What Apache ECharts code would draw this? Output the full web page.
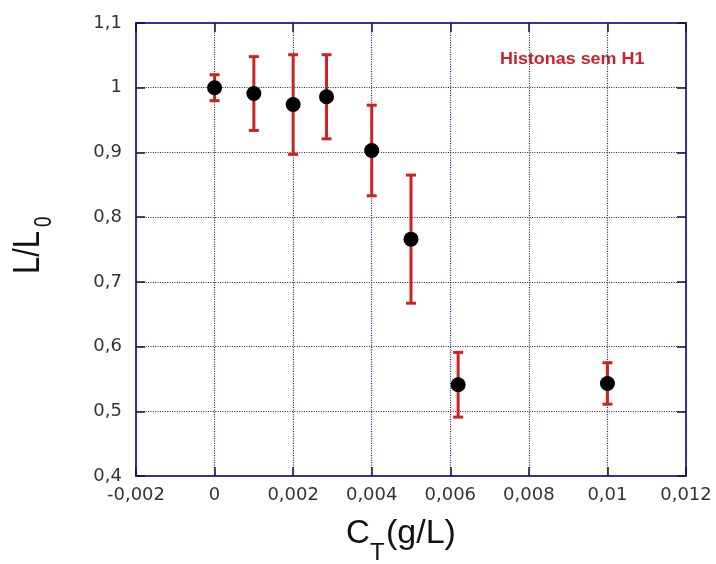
<!DOCTYPE html>
<html>
<head>
<meta charset="utf-8">
<script src="https://cdn.jsdelivr.net/npm/echarts@6/dist/echarts.min.js"></script>
<style>
  html, body { margin: 0; padding: 0; background: #fff; }
  #chart { width: 716px; height: 564px; }
</style>
</head>
<body>
<div id="chart"></div>
<script>
// Relative length L/L0 versus total histone concentration C_T (g/L)
const concentrations = [0, 0.001, 0.002, 0.00285, 0.004, 0.005, 0.0062, 0.01];
const relativeLength = [1.0, 0.991, 0.974, 0.986, 0.903, 0.766, 0.541, 0.543];
const lengthError = [0.02, 0.057, 0.077, 0.065, 0.07, 0.099, 0.05, 0.032];

const xTicks = { min: -0.002, max: 0.012, interval: 0.002 };
const yTicks = { min: 0.4, max: 1.1, interval: 0.1 };

const seriesLabel = 'Histonas sem H1';

const frameColor = '#3333a6';
const gridColor = '#1e1e66';
const barColor = '#cc2222';
const tickFont = 'DejaVu Sans';

const commaFormat = v => {
  const r = Math.round(v * 1e6) / 1e6;
  return String(r).replace('.', ',');
};

const pointData = concentrations.map((x, i) => [x, relativeLength[i]]);
const errorData = concentrations.map((x, i) => [x, relativeLength[i] - lengthError[i], relativeLength[i] + lengthError[i]]);

const chart = echarts.init(document.getElementById('chart'), null, { renderer: 'canvas' });

const baseAxis = {
  type: 'value',
  axisLine: { show: true, onZero: false, lineStyle: { color: frameColor, width: 2 } },
  axisTick: { show: true, inside: true, length: 9, lineStyle: { color: '#111144', width: 1.5 } },
  splitLine: { show: false },
  axisLabel: { show: false }
};

const titleFont = '"Liberation Sans", Arial, sans-serif';

chart.setOption({
  animation: false,
  backgroundColor: '#ffffff',
  grid: { left: 136, right: 30, top: 23, bottom: 88, containLabel: false },
  xAxis: [
    Object.assign({}, baseAxis, {
      position: 'bottom', min: xTicks.min, max: xTicks.max, interval: xTicks.interval,
      axisLabel: { show: true, formatter: commaFormat, color: '#333333', fontFamily: tickFont, fontSize: 18, margin: 10 },
      splitLine: { show: true, lineStyle: { color: gridColor, width: 1.2, type: [1, 1.4] } }
    }),
    Object.assign({}, baseAxis, {
      position: 'top', min: xTicks.min, max: xTicks.max, interval: xTicks.interval
    })
  ],
  yAxis: [
    Object.assign({}, baseAxis, {
      position: 'left', min: yTicks.min, max: yTicks.max, interval: yTicks.interval,
      axisLabel: { show: true, formatter: commaFormat, color: '#333333', fontFamily: tickFont, fontSize: 18, margin: 14 },
      splitLine: { show: true, lineStyle: { color: gridColor, width: 1.2, type: [1, 1.4] } }
    }),
    Object.assign({}, baseAxis, {
      position: 'right', min: yTicks.min, max: yTicks.max, interval: yTicks.interval
    })
  ],
  graphic: [
    // x axis title: C_T(g/L)
    {
      type: 'group', x: 346, y: 534,
      children: [
        { type: 'text', x: 0, y: 0, style: { text: 'C', fontSize: 33, fontFamily: titleFont, fill: '#111', verticalAlign: 'middle' } },
        { type: 'text', x: 24, y: 7, style: { text: 'T', fontSize: 24, fontFamily: titleFont, fill: '#111', verticalAlign: 'top' } },
        { type: 'text', x: 40, y: 0, style: { text: '(g/L)', fontSize: 34, fontFamily: titleFont, fill: '#111', verticalAlign: 'middle' } }
      ]
    },
    // y axis title: L/L0, reading upward
    {
      type: 'group', x: 10, y: 274, rotation: Math.PI / 2, scaleY: 1.22,
      children: [
        { type: 'text', x: 0, y: 0, style: { text: 'L/L', fontSize: 31, fontFamily: titleFont, fill: '#111', verticalAlign: 'top' } },
        { type: 'text', x: 47, y: 19, style: { text: '0', fontSize: 19, fontFamily: titleFont, fill: '#111', verticalAlign: 'top' } }
      ]
    },
    // series label inside the plot
    {
      type: 'text', x: 500, y: 52, scaleX: 1.12,
      style: { text: seriesLabel, fontSize: 16, fontWeight: 'bold', fontFamily: titleFont, fill: '#d02030', verticalAlign: 'top' }
    }
  ],
  series: [
    {
      type: 'custom',
      name: 'error',
      xAxisIndex: 0, yAxisIndex: 0,
      data: errorData,
      z: 3,
      renderItem: function (params, api) {
        const x = api.value(0);
        const lo = api.coord([x, api.value(1)]);
        const hi = api.coord([x, api.value(2)]);
        const hw = 5;
        const style = { stroke: barColor, lineWidth: 3 };
        return {
          type: 'group',
          children: [
            { type: 'line', shape: { x1: hi[0], y1: hi[1], x2: lo[0], y2: lo[1] }, style: style },
            { type: 'line', shape: { x1: hi[0] - hw, y1: hi[1], x2: hi[0] + hw, y2: hi[1] }, style: style },
            { type: 'line', shape: { x1: lo[0] - hw, y1: lo[1], x2: lo[0] + hw, y2: lo[1] }, style: style }
          ]
        };
      }
    },
    {
      type: 'scatter',
      name: seriesLabel,
      xAxisIndex: 0, yAxisIndex: 0,
      data: pointData,
      symbol: 'circle',
      symbolSize: 15,
      itemStyle: { color: '#000000', opacity: 1 },
      z: 5
    }
  ]
});
</script>
</body>
</html>
